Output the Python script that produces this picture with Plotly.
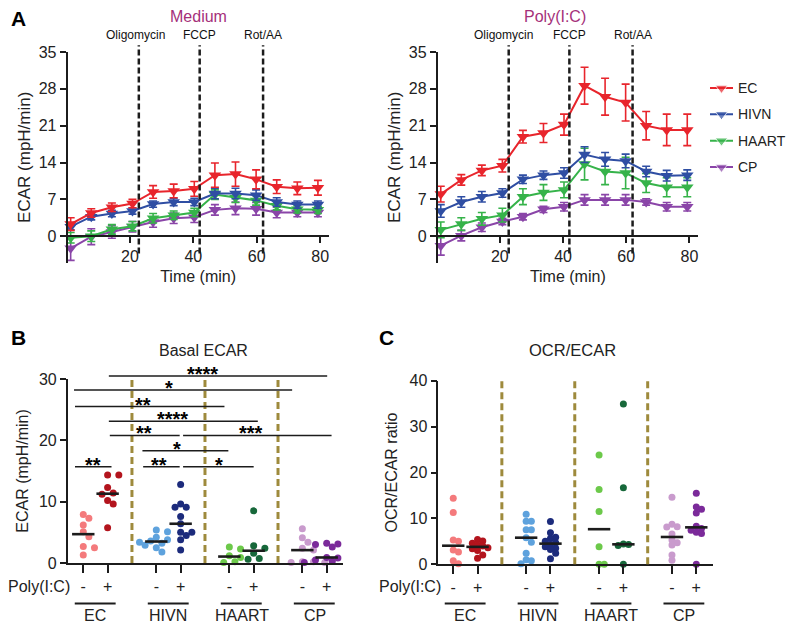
import numpy as np
import plotly.graph_objects as go

FONT = "Liberation Sans, Arial, Helvetica, sans-serif"
OFF = 8                      # page body margin in the browser
W, H = 798 - OFF, 634 - OFF  # figure size so the page fills the window exactly
INK = "#1c1c1c"

# ---------------- Panel A data (ECAR time course, mean +/- SEM) ----------------
time_min = [1.3, 7.8, 14.3, 20.8, 27.3, 33.8, 40.3, 46.8, 53.3, 59.8, 66.3, 72.8, 79.3]
groups = ["EC", "HIVN", "HAART", "CP"]
drug_names = ["Oligomycin", "FCCP", "Rot/AA"]
drug_times = [22.8, 42.0, 62.0]

medium_ec = [2.3, 4.4, 5.5, 6.2, 8.4, 8.6, 9.0, 11.6, 11.8, 10.8, 9.4, 9.1, 9.2]
medium_ec_sem = [1.2, 0.8, 0.8, 0.8, 1.2, 1.3, 1.4, 2.3, 2.3, 1.8, 1.3, 1.2, 1.4]
medium_hivn = [1.8, 3.7, 4.3, 4.8, 6.1, 6.5, 6.5, 8.1, 8.1, 7.8, 6.5, 6.0, 6.0]
medium_hivn_sem = [0.6, 0.6, 0.6, 0.6, 0.6, 0.7, 0.7, 1.0, 1.0, 1.0, 0.8, 0.7, 0.7]
medium_haart = [-0.3, 0.0, 1.3, 1.9, 3.4, 4.0, 4.5, 7.9, 7.3, 6.8, 5.8, 5.1, 5.0]
medium_haart_sem = [1.0, 1.0, 0.9, 0.9, 0.9, 0.8, 0.8, 0.9, 0.9, 0.9, 0.8, 0.7, 0.7]
medium_cp = [-2.3, -0.1, 0.8, 1.8, 2.7, 3.4, 3.6, 5.0, 5.3, 5.2, 4.5, 4.5, 4.5]
medium_cp_sem = [2.3, 1.5, 1.2, 1.0, 1.0, 1.0, 1.0, 1.0, 1.2, 1.2, 1.0, 0.8, 0.8]

polyic_ec = [8.0, 10.7, 12.5, 13.4, 18.9, 19.6, 21.2, 28.6, 26.5, 25.4, 21.0, 20.2, 20.2]
polyic_ec_sem = [1.5, 1.0, 1.0, 1.2, 1.2, 1.8, 2.0, 3.5, 3.5, 3.5, 2.7, 3.0, 3.0]
polyic_hivn = [4.8, 6.5, 7.5, 8.2, 10.8, 11.6, 12.0, 15.5, 14.6, 14.3, 12.3, 11.5, 11.6]
polyic_hivn_sem = [1.2, 1.0, 1.0, 0.8, 0.8, 0.8, 1.0, 1.5, 1.3, 1.3, 1.0, 1.0, 1.0]
polyic_haart = [1.2, 2.3, 3.3, 4.0, 7.5, 8.3, 8.8, 13.7, 12.3, 12.0, 10.1, 9.3, 9.3]
polyic_haart_sem = [1.5, 1.2, 1.2, 1.3, 1.5, 1.5, 1.5, 3.0, 2.5, 3.0, 1.8, 1.8, 1.8]
polyic_cp = [-1.8, 0.1, 1.7, 2.8, 3.7, 5.1, 5.6, 6.9, 6.9, 6.9, 6.5, 5.6, 5.6]
polyic_cp_sem = [1.8, 1.0, 0.8, 0.6, 0.6, 0.6, 0.8, 1.0, 1.0, 1.0, 0.6, 0.8, 0.8]

# ---------------- Panel B data (Basal ECAR, mpH/min) ----------------
basal_ec_neg = [7.9, 7.3, 6.2, 5.1, 4.3, 2.7, 2.5, 1.3]
basal_ec_pos = [14.35, 14.35, 12.3, 11.4, 11.2, 10.2, 9.6, 5.75]
basal_hivn_neg = [5.4, 5.1, 4.2, 3.8, 3.6, 3.4, 3.2, 2.9, 2.5, 1.8]
basal_hivn_pos = [12.8, 9.6, 9.1, 9.1, 7.6, 6.4, 5.0, 5.0, 4.5, 3.8, 2.1]
basal_haart_neg = [2.6, 2.3, 1.2, 0.9, 0.2, 0.1]
basal_haart_pos = [8.5, 2.8, 2.4, 1.6, 0.75, 0.6]
basal_cp_neg = [5.6, 4.1, 3.4, 2.4, 2.1, 0.2, 0.2, 0.1, 0.1]
basal_cp_pos = [3.2, 3.1, 3.0, 2.9, 2.6, 0.9, 0.8, 0.5, 0.3, 0.2, 0.1]

# significance comparisons in panel B (bar extent on category axis, height, label)
sig_x0 = [2.05, 0.62, 0.66, 2.05, 2.09, 5.1, 3.43, 3.46, 5.1, 0.66]
sig_x1 = [11.02, 9.58, 6.8, 8.17, 4.96, 11.2, 6.96, 4.96, 8.0, 2.16]
sig_y = [30.5, 28.2, 25.5, 23.1, 20.8, 20.8, 18.3, 15.7, 15.7, 15.7]
sig_text_x = [5.9, 4.51, 3.46, 4.66, 3.5, 7.87, 4.87, 4.11, 6.57, 1.38]
sig_label = ["****", "*", "**", "****", "**", "***", "*", "**", "*", "**"]

# ---------------- Panel C data (OCR/ECAR ratio) ----------------
ratio_ec_neg = [14.4, 11.3, 5.3, 5.0, 3.1, 2.7, 0.8, 0.1]
ratio_ec_pos = [5.4, 5.1, 4.6, 4.2, 4.0, 3.6, 3.4, 3.0, 2.0, 1.3]
ratio_hivn_neg = [10.9, 9.4, 9.4, 7.5, 7.5, 5.8, 4.8, 2.4, 1.0, 0.8, 0.1]
ratio_hivn_pos = [9.3, 6.9, 5.9, 5.6, 5.0, 4.7, 4.3, 3.8, 3.5, 3.2, 2.4, 1.2]
ratio_haart_neg = [23.8, 16.3, 11.5, 3.8, 0.0, 0.0]
ratio_haart_pos = [34.9, 16.7, 4.4, 4.3, 4.1, 0.0]
ratio_cp_neg = [14.6, 8.7, 8.2, 8.1, 6.6, 5.3, 4.7, 4.2, 2.0, 0.9]
ratio_cp_pos = [15.5, 12.5, 12.0, 11.2, 8.3, 7.8, 7.4, 7.0, 6.7, 0.0]

cat_pos = {"EC": (1, 2), "HIVN": (4, 5), "HAART": (7, 8), "CP": (10, 11)}
polyic_ticktext = ["-", "+"]

# ---------------- styles ----------------
line_colors = {"EC": "#e8252c", "HIVN": "#2f4ea3", "HAART": "#36b34a", "CP": "#8a45a8"}
dot_colors = {
    "EC": ("#f47a7c", "#b3141d"),
    "HIVN": ("#5ea2dd", "#1c2b7c"),
    "HAART": ("#6cc94a", "#17683a"),
    "CP": ("#c99bcd", "#7b2a9a"),
}
title_color = "#a5307a"
divider_color = "#9e8a3c"


def px_x(p):
    return (p - OFF) / W


def px_y(p):
    return 1 - (p - OFF) / H


A_Y = (262.5, 52.0)
A_LEFT_X = (67.5, 328.7)
A_RIGHT_X = (437.6, 698.0)
A_XRANGE = [0.3, 82.7]
A_YRANGE = [-5, 35]
B_X, B_Y = (67.7, 343.0), (563.0, 379.0)
C_X, C_Y = (438.3, 713.3), (564.3, 380.7)
B_XRANGE, B_YRANGE = [0.36, 11.67], [0, 30]
C_XRANGE, C_YRANGE = [0.385, 11.7], [0, 40]
LEG_X = (710.0, 733.0)
LEG_Y = (74.8, 180.2)

fig = go.Figure()

# ---------------- Panel A traces ----------------
panelA = [
    ("x", "y", {"EC": (medium_ec, medium_ec_sem), "HIVN": (medium_hivn, medium_hivn_sem),
                "HAART": (medium_haart, medium_haart_sem), "CP": (medium_cp, medium_cp_sem)}),
    ("x2", "y2", {"EC": (polyic_ec, polyic_ec_sem), "HIVN": (polyic_hivn, polyic_hivn_sem),
                  "HAART": (polyic_haart, polyic_haart_sem), "CP": (polyic_cp, polyic_cp_sem)}),
]
for xa, ya, series in panelA:
    for g in reversed(groups):
        vals, sem = series[g]
        c = line_colors[g]
        fig.add_trace(go.Scatter(
            x=time_min, y=vals, mode="lines+markers", name=g,
            showlegend=False, xaxis=xa, yaxis=ya,
            line=dict(color=c, width=2),
            marker=dict(symbol="triangle-down", size=11, color=c),
            error_y=dict(type="data", array=sem, visible=True, color=c, thickness=1.6, width=4),
            cliponaxis=False,
        ))

# legend for panel A (drawn on its own hidden axes)
legend_annotations = []
for i, g in enumerate(groups):
    c = line_colors[g]
    fig.add_trace(go.Scatter(
        x=[0, 0.5, 1], y=[i, i, i], mode="lines+markers", showlegend=False,
        xaxis="x5", yaxis="y5", line=dict(color=c, width=2),
        marker=dict(symbol="triangle-down", size=[0, 11, 0], color=c),
        cliponaxis=False, hoverinfo="skip",
    ))
    legend_annotations.append(dict(xref="x5", yref="y5", x=1, y=i, text=g, showarrow=False,
                                   xanchor="left", yanchor="middle", xshift=3,
                                   font=dict(size=14, color="#222")))


def swarm_offsets(values, y_ppu, x_ppu, dot_px, step_px):
    values = np.asarray(values, dtype=float)
    order = np.argsort(-values, kind="stable")
    placed = []
    offs = np.zeros(len(values))
    for i in order:
        yv = values[i] * y_ppu
        xv = 0.0
        for k in [0, 1, -1, 2, -2, 3, -3, 4, -4]:
            xv = k * step_px
            if all((xv - a) ** 2 + (yv - b) ** 2 >= dot_px ** 2 for a, b in placed):
                break
        placed.append((xv, yv))
        offs[i] = xv / x_ppu
    return offs


def add_dot_panel(xa, ya, data, xdom, ydom, xrange, yrange, dot_px, step_px):
    y_ppu = (ydom[0] - ydom[1]) / (yrange[1] - yrange[0])
    x_ppu = (xdom[1] - xdom[0]) / (xrange[1] - xrange[0])
    for g in groups:
        for j, vals in enumerate(data[g]):
            xc = cat_pos[g][j]
            offs = swarm_offsets(vals, y_ppu, x_ppu, dot_px, step_px)
            fig.add_trace(go.Scatter(
                x=xc + offs, y=vals, mode="markers", showlegend=False, xaxis=xa, yaxis=ya,
                marker=dict(size=7, color=dot_colors[g][j], line=dict(width=0)),
                cliponaxis=False, hoverinfo="y",
            ))
            fig.add_trace(go.Scatter(
                x=[xc], y=[float(np.median(vals))], mode="markers", showlegend=False,
                xaxis=xa, yaxis=ya, cliponaxis=False,
                marker=dict(symbol="line-ew", size=16, color=INK, line=dict(width=2.6, color=INK)),
            ))


basal_data = {"EC": (basal_ec_neg, basal_ec_pos), "HIVN": (basal_hivn_neg, basal_hivn_pos),
              "HAART": (basal_haart_neg, basal_haart_pos), "CP": (basal_cp_neg, basal_cp_pos)}
ratio_data = {"EC": (ratio_ec_neg, ratio_ec_pos), "HIVN": (ratio_hivn_neg, ratio_hivn_pos),
              "HAART": (ratio_haart_neg, ratio_haart_pos), "CP": (ratio_cp_neg, ratio_cp_pos)}
add_dot_panel("x3", "y3", basal_data, B_X, B_Y, B_XRANGE, B_YRANGE, 6.2, 5.6)
add_dot_panel("x4", "y4", ratio_data, C_X, C_Y, C_XRANGE, C_YRANGE, 4.6, 5.2)

# ---------------- axes ----------------
axis_style = dict(showline=True, linecolor=INK, linewidth=1.6, ticks="outside", ticklen=6,
                  tickwidth=1.6, tickcolor=INK, showgrid=False, zeroline=False, automargin=False,
                  tickfont=dict(size=16, color="#222"), fixedrange=True)

zero_pos = px_y(A_Y[0] - (0 - A_YRANGE[0]) * (A_Y[0] - A_Y[1]) / (A_YRANGE[1] - A_YRANGE[0]))
a_x_common = dict(range=A_XRANGE, tickvals=[20, 40, 60, 80], anchor="free", position=zero_pos,
                  title=dict(text="Time (min)", font=dict(size=16, color="#222"), standoff=6),
                  **axis_style)
a_y_common = dict(range=A_YRANGE, tickvals=list(range(0, 36, 7)),
                  title=dict(text="ECAR (mpH/min)", font=dict(size=17, color="#222"), standoff=4),
                  **axis_style)

cat_tickvals = [p for g in groups for p in cat_pos[g]]
cat_ticktext = polyic_ticktext * len(groups)
cat_x_common = dict(tickvals=cat_tickvals, ticktext=cat_ticktext,
                    **{**axis_style, "ticklen": 8, "tickwidth": 2})
hidden = dict(visible=False, showgrid=False, zeroline=False, fixedrange=True)

fig.update_layout(
    template="none",
    width=W, height=H, margin=dict(l=0, r=0, t=0, b=0, pad=0, autoexpand=False),
    paper_bgcolor="white", plot_bgcolor="rgba(0,0,0,0)",
    font=dict(family=FONT, color="#222"),
    showlegend=False,
    xaxis=dict(domain=[px_x(A_LEFT_X[0]), px_x(A_LEFT_X[1])], **a_x_common),
    yaxis=dict(domain=[px_y(A_Y[0]), px_y(A_Y[1])], anchor="x", **a_y_common),
    xaxis2=dict(domain=[px_x(A_RIGHT_X[0]), px_x(A_RIGHT_X[1])], **a_x_common),
    yaxis2=dict(domain=[px_y(A_Y[0]), px_y(A_Y[1])], anchor="x2", **a_y_common),
    xaxis3=dict(domain=[px_x(B_X[0]), px_x(B_X[1])], range=B_XRANGE, anchor="y3", **cat_x_common),
    yaxis3=dict(domain=[px_y(B_Y[0]), px_y(B_Y[1])], range=B_YRANGE, anchor="x3",
                tickvals=[0, 10, 20, 30],
                title=dict(text="ECAR (mpH/min)", font=dict(size=16, color="#222"), standoff=6),
                **axis_style),
    xaxis4=dict(domain=[px_x(C_X[0]), px_x(C_X[1])], range=C_XRANGE, anchor="y4", **cat_x_common),
    yaxis4=dict(domain=[px_y(C_Y[0]), px_y(C_Y[1])], range=C_YRANGE, anchor="x4",
                tickvals=[0, 10, 20, 30, 40],
                title=dict(text="OCR/ECAR ratio", font=dict(size=16, color="#222"), standoff=8),
                **axis_style),
    xaxis5=dict(domain=[px_x(LEG_X[0]), px_x(LEG_X[1])], range=[0, 1], anchor="y5", **hidden),
    yaxis5=dict(domain=[px_y(LEG_Y[1]), px_y(LEG_Y[0])], range=[len(groups) - 0.5, -0.5],
                anchor="x5", **hidden),
)

shapes = []
annotations = list(legend_annotations)

# Panel A: drug injection lines and labels
for xa, ya, shift in [("x", "y", -3), ("x2", "y2", -5)]:
    for name, t in zip(drug_names, drug_times):
        shapes.append(dict(type="line", xref=xa, yref=f"{ya} domain", x0=t, x1=t,
                           y0=(-3.3 - A_YRANGE[0]) / 40, y1=(36.3 - A_YRANGE[0]) / 40,
                           line=dict(color=INK, width=2.5, dash="6px,3px")))
        annotations.append(dict(xref=xa, yref="paper", x=t, y=px_y(35), text=name,
                                showarrow=False, font=dict(size=12, color="#111"),
                                xanchor="center", yanchor="middle",
                                xshift=(shift if name == "Oligomycin" else 0)))

annotations += [
    dict(xref="paper", yref="paper", x=px_x(198), y=px_y(16.5), text="Medium", showarrow=False,
         font=dict(size=16, color=title_color), xanchor="center", yanchor="middle"),
    dict(xref="paper", yref="paper", x=px_x(555), y=px_y(16.5), text="Poly(I:C)", showarrow=False,
         font=dict(size=16, color=title_color), xanchor="center", yanchor="middle"),
    dict(xref="paper", yref="paper", x=px_x(18.5), y=px_y(19), text="<b>A</b>", showarrow=False,
         font=dict(size=21, color="#000"), xanchor="center", yanchor="middle"),
    dict(xref="paper", yref="paper", x=px_x(18.5), y=px_y(337.5), text="<b>B</b>", showarrow=False,
         font=dict(size=21, color="#000"), xanchor="center", yanchor="middle"),
    dict(xref="paper", yref="paper", x=px_x(386), y=px_y(337.5), text="<b>C</b>", showarrow=False,
         font=dict(size=21, color="#000"), xanchor="center", yanchor="middle"),
    dict(xref="paper", yref="paper", x=px_x(203), y=px_y(350), text="Basal ECAR", showarrow=False,
         font=dict(size=16, color="#222"), xanchor="center", yanchor="middle"),
    dict(xref="paper", yref="paper", x=px_x(572), y=px_y(350), text="OCR/ECAR", showarrow=False,
         font=dict(size=16.5, color="#222"), xanchor="center", yanchor="middle"),
    dict(xref="paper", yref="paper", x=px_x(39.5), y=px_y(586.5), text="Poly(I:C)", showarrow=False,
         font=dict(size=16, color="#222"), xanchor="center", yanchor="middle"),
    dict(xref="paper", yref="paper", x=px_x(410), y=px_y(586.5), text="Poly(I:C)", showarrow=False,
         font=dict(size=16, color="#222"), xanchor="center", yanchor="middle"),
]

# Panels B and C: group dividers, underlines and group labels
for xa, ya, top in [("x3", "y3", 30.4 / 30), ("x4", "y4", 1.0)]:
    for g_left, g_right in zip(groups[:-1], groups[1:]):
        xd = (cat_pos[g_left][1] + cat_pos[g_right][0]) / 2
        shapes.append(dict(type="line", xref=xa, yref=f"{ya} domain", x0=xd, x1=xd, y0=0, y1=top,
                           line=dict(color=divider_color, width=3, dash="7px,4px")))
    for g in groups:
        a, b = cat_pos[g]
        shapes.append(dict(type="line", xref=xa, yref="paper", x0=a - 0.35, x1=b + 0.33,
                           y0=px_y(603.5), y1=px_y(603.5), line=dict(color=INK, width=2)))
        annotations.append(dict(xref=xa, yref="paper", x=(a + b) / 2, y=px_y(615.5), text=g,
                                showarrow=False, font=dict(size=16, color="#222"),
                                xanchor="center", yanchor="middle"))

# Panel B significance bars
for x0, x1, yv, tx, lab in zip(sig_x0, sig_x1, sig_y, sig_text_x, sig_label):
    shapes.append(dict(type="line", xref="x3", yref="y3 domain", x0=x0, x1=x1,
                       y0=yv / B_YRANGE[1], y1=yv / B_YRANGE[1], line=dict(color=INK, width=1.5)))
    annotations.append(dict(xref="x3", yref="y3 domain", x=tx, y=yv / B_YRANGE[1], text=f"<b>{lab}</b>",
                            showarrow=False, font=dict(size=20, color="#000"),
                            xanchor="center", yanchor="bottom", yshift=-11))

fig.update_layout(shapes=shapes, annotations=annotations)
fig.write_html("out.html")
